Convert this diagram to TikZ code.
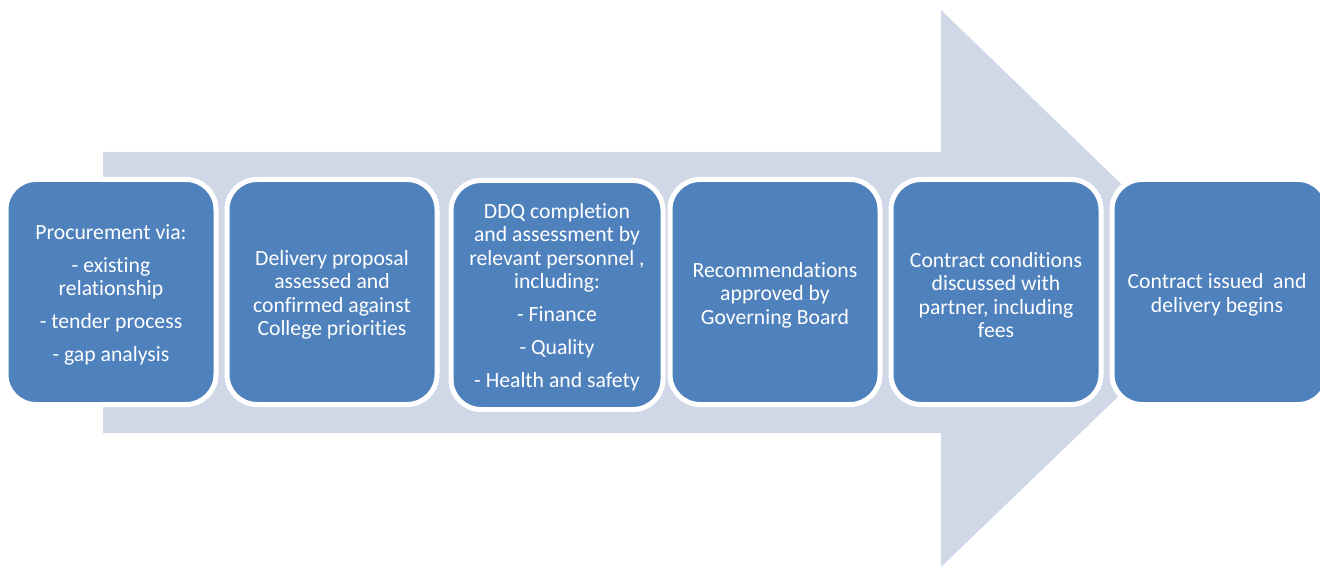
\documentclass[tikz,border=0pt]{standalone}
\usepackage{fontspec}
\setmainfont[Ligatures=NoCommon,RawFeature={-liga;-clig;-dlig}]{Carlito}
\definecolor{boxblue}{HTML}{4F81BD}
\definecolor{arrowbg}{HTML}{D0D8E8}
\tikzset{
  stepbox/.style={draw=white, line width=5pt, fill=boxblue, rounded corners=30pt,
    minimum width=210pt, minimum height=225pt, inner sep=0pt},
  steptext/.style={inner sep=0pt, align=center, text=white,
    font=\fontsize{21.7}{23.5}\selectfont},
}
\begin{document}
\begin{tikzpicture}[x=1pt,y=-1pt]
\useasboundingbox (0,0) rectangle (1320,569);
\fill[arrowbg] (103,152) -- (941,152) -- (941,10) -- (1230,289) -- (941,567) -- (941,433) -- (103,433) -- cycle;
\node[stepbox] (b1) at (111,292) {};
\node[stepbox] (b2) at (332,292) {};
\node[stepbox, minimum height=229pt, minimum width=212pt] (b3) at (557,295) {};
\node[stepbox] (b4) at (775,292) {};
\node[stepbox] (b5) at (996,292) {};
\node[stepbox, minimum width=216pt] (b6) at (1220,292) {};
\node[steptext] (t1) at ([yshift=-3pt]b1.center) {Procurement via:\\[9.5pt]- existing\\relationship\\[9.5pt]- tender process\\[9.5pt]- gap analysis};
\node[steptext] (t2) at ([yshift=-3pt]b2.center) {Delivery proposal\\assessed and\\confirmed against\\College priorities};
\node[steptext] (t3) at ([yshift=-2pt]b3.center) {DDQ completion\\and assessment by\\relevant personnel ,\\including:\\[9.5pt]- Finance\\[9.5pt]- Quality\\[9.5pt]- Health and safety};
\node[steptext] (t4) at ([yshift=-3pt]b4.center) {Recommendations\\approved by\\Governing Board};
\node[steptext] (t5) at ([yshift=-3pt]b5.center) {Contract conditions\\discussed with\\partner, including\\fees};
\node[steptext] (t6) at ([xshift=-3pt,yshift=-3pt]b6.center) {Contract issued~~and\\delivery begins};
\end{tikzpicture}
\end{document}
